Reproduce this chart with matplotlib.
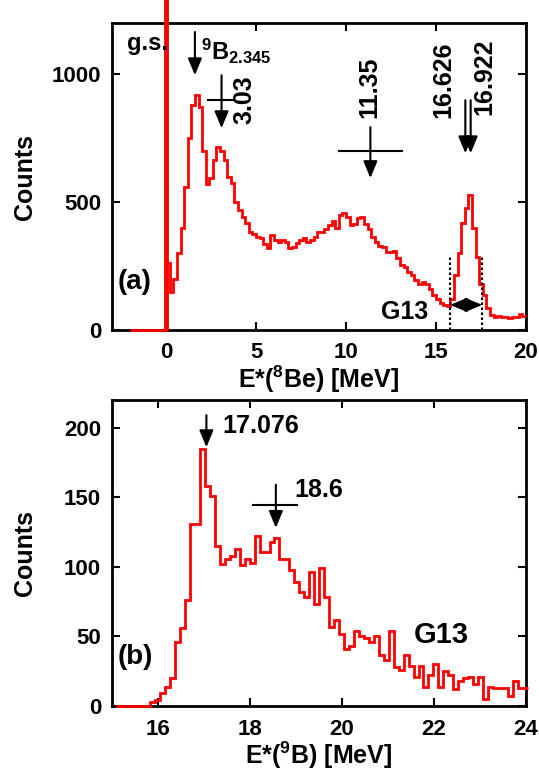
import numpy as np
import matplotlib
matplotlib.use("Agg")
import matplotlib.pyplot as plt

plt.rcParams['font.family'] = ['Liberation Sans', 'DejaVu Sans']
plt.rcParams['font.weight'] = 'bold'
plt.rcParams['axes.labelweight'] = 'bold'
plt.rcParams['mathtext.fontset'] = 'custom'
plt.rcParams['mathtext.rm'] = 'Liberation Sans:bold'
plt.rcParams['mathtext.bf'] = 'Liberation Sans:bold'
plt.rcParams['mathtext.default'] = 'bf'

# --- (a) E*(8Be) spectrum, 0.2 MeV bins from -2 MeV ---
be8_first_edge = -2.0
be8_bin_width = 0.2
be8_counts = [
    0, 0, 0, 0, 0, 0, 0, 0, 0, 0,
    260, 150, 200, 300, 400, 560, 750, 880, 920, 870,
    700, 570, 595, 665, 715, 700, 665, 600, 575, 500,
    470, 440, 420, 383, 375, 365, 360, 335, 320, 370,
    350, 345, 352, 345, 320, 325, 340, 352, 360, 345,
    350, 365, 385, 385, 395, 410, 428, 400, 449, 456,
    440, 410, 415, 437, 440, 415, 395, 365, 345, 328,
    325, 305, 305, 310, 280, 255, 245, 228, 215, 195,
    180, 188, 178, 160, 135, 120, 106, 98, 92, 120,
    215, 300, 420, 475, 527, 400, 286, 180, 137, 85,
    60, 52, 55, 50, 50, 46, 50, 52, 62, 55,
]
gs_energy = 0.0
gs_peak = 1300  # off scale

# --- (b) E*(9B) spectrum ---
b9_first_edge = 15.074
b9_bin_width = 0.108
b9_counts = [
    0, 0, 0, 0, 0, 0, 0,
    3, 4, 9, 14, 20, 46, 56, 76, 131, 131,
    185, 158, 151, 115, 102, 106, 108, 113, 101, 106,
    103, 122, 111, 111, 118, 121, 106, 106, 98, 89,
    82, 78, 96, 73, 99, 78, 57, 62, 52, 41,
    43, 54, 50, 49, 46, 50, 37, 33, 54, 28,
    26, 37, 29, 21, 29, 14, 22, 30, 14, 25,
    22, 12, 18, 20, 21, 16, 21, 5, 14, 13,
    13, 13, 7, 18, 13, 13,
]

# arrows: (x, y_top, y_tip)
a_arrows = [(1.6, 1165, 996), (3.08, 996, 789), (11.35, 793, 594),
            (16.626, 898, 691), (16.922, 898, 691)]
# width bars: (x0, x1, y)
a_bars = [(2.32, 3.75, 898), (9.63, 13.1, 699)]
b_arrows = [(17.05, 209, 186), (18.56, 159, 128)]
b_bars = [(18.07, 19.03, 144.6)]
g13_window = (15.78, 17.57)

fig = plt.figure(figsize=(5.39, 7.79), dpi=100)
ax1 = fig.add_axes([0.208, 0.5764, 0.768, 0.394])
ax2 = fig.add_axes([0.208, 0.0937, 0.768, 0.393])

edges_a = be8_first_edge + be8_bin_width * np.arange(len(be8_counts) + 1)
edges_b = b9_first_edge + b9_bin_width * np.arange(len(b9_counts) + 1)

# not clipped so the zero-count part stays visible on the bottom spine
ax1.stairs(be8_counts, edges_a, baseline=None, color='red', lw=2, zorder=3,
           clip_on=False)
ax1.vlines(gs_energy, 0, gs_peak, color='red', lw=3.5, clip_on=False, zorder=3)
ax2.stairs(b9_counts, edges_b, baseline=None, color='red', lw=2, zorder=3,
           clip_on=False)

head = '-|>,head_length=0.6,head_width=0.25'
arrow_kw = dict(arrowstyle=head, color='k', lw=1.5, shrinkA=0, shrinkB=0,
                mutation_scale=17)


def draw_arrows(ax, arrows, bars):
    for x, y0, y1 in arrows:
        ax.annotate('', xy=(x, y1), xytext=(x, y0), arrowprops=arrow_kw)
    for x0, x1, y in bars:
        ax.plot([x0, x1], [y, y], color='k', lw=1.5)


draw_arrows(ax1, a_arrows, a_bars)
draw_arrows(ax2, b_arrows, b_bars)

# G13 gate
for xg in g13_window:
    ax1.plot([xg, xg], [0, 286], color='k', lw=1.5, ls=(0, (1.2, 1.2)), zorder=4)
ax1.annotate('', xy=(g13_window[0], 98), xytext=(g13_window[1], 98),
             arrowprops=dict(arrowstyle='<|-|>,head_length=0.6,head_width=0.25',
                             color='k', lw=1.5, shrinkA=0, shrinkB=0,
                             mutation_scale=17))

# texts panel (a)
ax1.text(-2.16, 1122, 'g.s.', fontsize=17, ha='left', va='center', zorder=4)
ax1.text(1.95, 1055, '$^{9}$B$_{2.345}$', fontsize=17, ha='left', va='baseline')
ax1.text(4.35, 807, '3.03', fontsize=18, rotation=90, ha='center', va='bottom')
ax1.text(11.3, 828, '11.35', fontsize=18, rotation=90, ha='center', va='bottom')
ax1.text(15.4, 828, '16.626', fontsize=18, rotation=90, ha='center', va='bottom')
ax1.text(17.66, 840, '16.922', fontsize=18, rotation=90, ha='center', va='bottom')
ax1.text(14.56, 70, 'G13', fontsize=18, ha='right', va='center')
ax1.text(-2.7, 189, '(a)', fontsize=20, ha='left', va='center')

# texts panel (b)
ax2.text(17.39, 201, '17.076', fontsize=18, ha='left', va='center')
ax2.text(18.97, 155, '18.6', fontsize=18, ha='left', va='center')
ax2.text(21.56, 51, 'G13', fontsize=21, ha='left', va='center')
ax2.text(15.12, 35.5, '(b)', fontsize=20, ha='left', va='center')

ax1.set_xlim(-3, 20)
ax1.set_ylim(0, 1200)
ax1.set_xticks([0, 5, 10, 15, 20])
ax1.set_yticks([0, 500, 1000])
ax1.set_xlabel('E*($^{8}$Be) [MeV]', fontsize=18, fontweight='bold')

ax2.set_xlim(15, 24)
ax2.set_ylim(0, 220)
ax2.set_xticks([16, 18, 20, 22, 24])
ax2.set_yticks([0, 50, 100, 150, 200])
ax2.set_xlabel('E*($^{9}$B) [MeV]', fontsize=18, fontweight='bold')

for ax in (ax1, ax2):
    ax.set_ylabel('Counts', fontsize=18, fontweight='bold')
    ax.yaxis.set_label_coords(-0.181, 0.5)
    ax.xaxis.set_label_coords(0.5, -0.11)
    for sp in ax.spines.values():
        sp.set_linewidth(2)
    ax.tick_params(direction='in', top=True, right=True, length=6, width=1.5,
                   labelsize=16)
    ax.tick_params(axis='x', pad=9)
    ax.tick_params(axis='y', pad=8)
    for lab in ax.get_xticklabels() + ax.get_yticklabels():
        lab.set_fontweight('bold')

plt.savefig('out.png', dpi=100)
